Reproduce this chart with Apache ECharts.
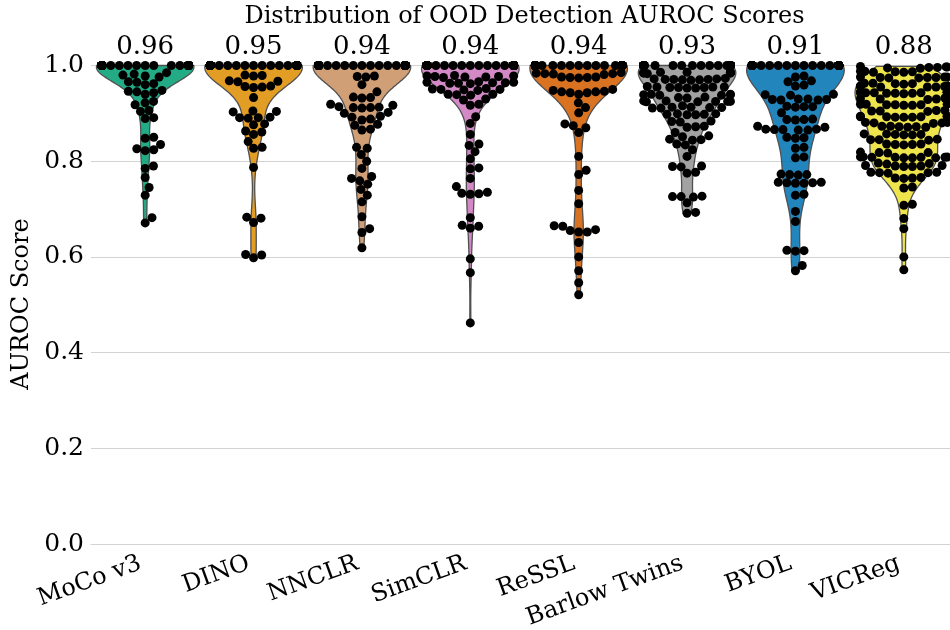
<!DOCTYPE html>
<html>
<head>
<meta charset="utf-8">
<script src="https://cdn.jsdelivr.net/npm/echarts@6/dist/echarts.min.js"></script>
<style>html,body{margin:0;padding:0;background:#fff}#chart{width:950px;height:630px}</style>
</head>
<body>
<div id="chart"></div>
<script>
const chartTitle = 'Distribution of OOD Detection AUROC Scores';
const yAxisName = 'AUROC Score';
const categories = ['MoCo v3', 'DINO', 'NNCLR', 'SimCLR', 'ReSSL', 'Barlow Twins', 'BYOL', 'VICReg'];
const meanLabels = ['0.96', '0.95', '0.94', '0.94', '0.94', '0.93', '0.91', '0.88'];
const yTickValues = [0, 0.2, 0.4, 0.6, 0.8, 1.0];

const mocoV3 = [
  0.985, 0.98, 0.978, 0.982, 0.976, 0.966, 0.962, 0.965, 0.96,
  0.945, 0.94, 0.943, 0.946, 0.948, 0.918, 0.925, 0.922, 0.904, 0.906,
  0.891, 0.889, 0.85, 0.848, 0.835, 0.824, 0.822, 0.826, 0.79, 0.785,
  0.766, 0.745, 0.729, 0.682, 0.671,
  1, 1, 1, 1, 1, 1, 1, 1, 1, 1,
  1, 1, 1, 1, 1, 1, 1, 1, 1, 1,
  1, 1, 1, 1, 1, 1, 1, 1, 1, 1,
  1, 1, 1, 1, 1, 1, 1, 1, 1, 1,
  1, 1, 1, 1, 1, 1, 1, 1, 1, 1,
  1, 1, 1, 1, 1, 1, 1, 1, 1, 1,
  1, 1, 1, 1, 1, 1
];
const dino = [
  0.98, 0.979, 0.978, 0.968, 0.967, 0.966, 0.957, 0.956, 0.955, 0.954,
  0.933, 0.905, 0.904, 0.903, 0.892, 0.891, 0.89, 0.891, 0.878, 0.876,
  0.863, 0.861, 0.856, 0.841, 0.829, 0.827, 0.787, 0.683, 0.681, 0.672,
  0.605, 0.604, 0.598,
  1, 1, 1, 1, 1, 1, 1, 1, 1, 1,
  1, 1, 1, 1, 1, 1, 1, 1, 1, 1,
  1, 1, 1, 1, 1, 1, 1, 1, 1, 1,
  1, 1, 1, 1, 1, 1, 1, 1, 1, 1,
  1, 1, 1, 1, 1, 1, 1, 1, 1, 1,
  1, 1, 1, 1, 1, 1, 1, 1, 1, 1
];
const nnclr = [
  0.978, 0.977, 0.976, 0.96, 0.945, 0.934, 0.933, 0.932, 0.919, 0.917,
  0.913, 0.912, 0.911, 0.912, 0.914, 0.902, 0.9, 0.894, 0.892, 0.888,
  0.886, 0.877, 0.875, 0.867, 0.865, 0.829, 0.827, 0.814, 0.8, 0.785,
  0.768, 0.764, 0.759, 0.752, 0.741, 0.729, 0.715, 0.684, 0.659, 0.651,
  0.619,
  1, 1, 1, 1, 1, 1, 1, 1, 1, 1,
  1, 1, 1, 1, 1, 1, 1, 1, 1, 1,
  1, 1, 1, 1, 1, 1, 1, 1, 1, 1,
  1, 1, 1, 1, 1, 1, 1, 1, 1, 1,
  1, 1, 1, 1, 1, 1, 1, 1, 1, 1,
  1, 1, 1, 1, 1, 1, 1, 1, 1, 1,
  1, 1, 1
];
const simclr = [
  0.979, 0.978, 0.977, 0.976, 0.978, 0.975, 0.977, 0.976,
  0.966, 0.965, 0.964, 0.963, 0.962, 0.964, 0.965, 0.963,
  0.951, 0.95, 0.949, 0.952, 0.948, 0.95,
  0.94, 0.939, 0.938, 0.94, 0.93, 0.928, 0.919, 0.917,
  0.893, 0.879, 0.856, 0.836, 0.833, 0.82, 0.805, 0.786, 0.784, 0.764,
  0.747, 0.735, 0.733, 0.731, 0.732, 0.682, 0.666, 0.664, 0.66, 0.596,
  0.567, 0.462,
  1, 1, 1, 1, 1, 1, 1, 1, 1, 1,
  1, 1, 1, 1, 1, 1, 1, 1, 1, 1,
  1, 1, 1, 1, 1, 1, 1, 1, 1, 1,
  1, 1, 1, 1, 1, 1, 1, 1, 1, 1,
  1, 1, 1, 1, 1, 1, 1, 1, 1, 1,
  1, 1, 1, 1, 1, 1, 1, 1, 1, 1,
  1, 1, 1, 1, 1, 1, 1, 1, 1, 1,
  1, 1, 1, 1, 1, 1, 1, 1, 1, 1,
  1, 1
];
const ressl = [
  0.985, 0.984, 0.983, 0.982, 0.983, 0.981, 0.976, 0.975, 0.974, 0.976,
  0.975, 0.95, 0.945, 0.945, 0.943, 0.943, 0.94, 0.946, 0.948, 0.922,
  0.912, 0.901, 0.87, 0.874, 0.878, 0.86, 0.81, 0.781, 0.772, 0.739,
  0.711, 0.665, 0.657, 0.652, 0.652, 0.655, 0.664, 0.63, 0.6, 0.571,
  0.546, 0.521,
  1, 1, 1, 1, 1, 1, 1, 1, 1, 1,
  1, 1, 1, 1, 1, 1, 1, 1, 1, 1,
  1, 1, 1, 1, 1, 1, 1, 1, 1, 1,
  1, 1, 1, 1, 1, 1, 1, 1, 1, 1,
  1, 1, 1, 1, 1, 1, 1, 1, 1, 1,
  1, 1, 1, 1, 1, 1, 1, 1, 1, 1,
  1, 1, 1, 1, 1, 1, 1, 1, 1, 1,
  1, 1
];
const barlowTwins = [
  0.986, 0.985, 0.984, 0.985, 0.986, 0.984, 0.985, 0.983, 0.986, 0.985,
  0.972, 0.971, 0.97, 0.972, 0.969, 0.971, 0.973, 0.97, 0.971,
  0.955, 0.954, 0.953, 0.955, 0.954, 0.956, 0.953, 0.954, 0.955,
  0.94, 0.939, 0.938, 0.94, 0.939, 0.938, 0.933, 0.932, 0.934,
  0.926, 0.925, 0.924, 0.925, 0.926, 0.924, 0.925, 0.916,
  0.913, 0.912, 0.911, 0.912, 0.913, 0.911,
  0.899, 0.898, 0.897, 0.898, 0.899, 0.897,
  0.884, 0.883, 0.882, 0.873, 0.872, 0.871, 0.86, 0.853, 0.851,
  0.846, 0.845, 0.844, 0.836, 0.834, 0.824, 0.81,
  0.79, 0.789, 0.788, 0.777, 0.775, 0.727, 0.726, 0.725, 0.726, 0.713,
  0.693, 0.691,
  1, 1, 1, 1, 1, 1, 1, 1, 1, 1,
  1, 1, 1, 1, 1, 1, 1, 1, 1, 1,
  1, 1, 1, 1, 1, 1, 1, 1, 1, 1,
  1, 1, 1, 1, 1, 1, 1
];
const byol = [
  0.978, 0.976, 0.968, 0.966, 0.959, 0.957, 0.94, 0.939, 0.938,
  0.93, 0.929, 0.928, 0.93, 0.929, 0.928, 0.915, 0.914, 0.913, 0.914,
  0.901, 0.888, 0.887, 0.886, 0.887, 0.873, 0.871,
  0.867, 0.866, 0.865, 0.866, 0.867, 0.865, 0.85, 0.849, 0.848,
  0.829, 0.827, 0.809, 0.807, 0.773, 0.772, 0.771, 0.772,
  0.756, 0.755, 0.754, 0.755, 0.756, 0.754, 0.731, 0.729, 0.695, 0.674,
  0.614, 0.613, 0.612, 0.582, 0.571,
  1, 1, 1, 1, 1, 1, 1, 1, 1, 1,
  1, 1, 1, 1, 1, 1, 1, 1, 1, 1,
  1, 1, 1, 1, 1, 1, 1, 1, 1, 1,
  1, 1, 1, 1, 1, 1, 1, 1, 1, 1,
  1, 1, 1, 1, 1, 1, 1, 1
];
const vicreg = [
  0.998, 0.997, 0.996, 0.996, 0.995, 0.997, 0.994,
  0.988, 0.987, 0.986, 0.987, 0.986, 0.988,
  0.976, 0.975, 0.974, 0.976, 0.975, 0.974, 0.975, 0.976,
  0.963, 0.962, 0.961, 0.962, 0.963,
  0.957, 0.956, 0.955, 0.956, 0.957, 0.955, 0.956, 0.957, 0.955,
  0.944, 0.943, 0.942, 0.943, 0.944, 0.942, 0.943, 0.944, 0.942, 0.943, 0.944, 0.941, 0.945,
  0.931, 0.93, 0.929, 0.93, 0.931, 0.932,
  0.919, 0.918, 0.917, 0.918, 0.919, 0.917, 0.918, 0.919,
  0.906, 0.905, 0.904, 0.905, 0.906,
  0.894, 0.893, 0.892, 0.893, 0.894, 0.892, 0.893, 0.894, 0.892,
  0.881, 0.88, 0.879, 0.88, 0.881,
  0.873, 0.872, 0.871, 0.872, 0.873, 0.871,
  0.857, 0.856, 0.855, 0.856, 0.857, 0.855,
  0.846, 0.845, 0.844, 0.845,
  0.836, 0.835, 0.834, 0.835, 0.836,
  0.819, 0.818, 0.817, 0.818,
  0.809, 0.808, 0.807, 0.808, 0.809, 0.807, 0.808, 0.809, 0.807, 0.808,
  0.796, 0.795, 0.794, 0.791, 0.79, 0.789, 0.79, 0.791, 0.789,
  0.777, 0.776, 0.775, 0.776, 0.777, 0.766, 0.765, 0.764, 0.765,
  0.746, 0.744, 0.71, 0.708, 0.68, 0.659, 0.6, 0.573
];

const palette = ['#029e73', '#de8f05', '#ca9161', '#cc78bc', '#d55e00', '#949494', '#0173b2', '#ece133'];
const scores = [mocoV3, dino, nnclr, simclr, ressl, barlowTwins, byol, vicreg];

const FONT = 'DejaVu Serif';
const FILL_ALPHA = 0.87;
const VIOLIN_HALF = 0.45;
const SWARM_HALF = 0.40;
const DOT_R = 4.5;
const DOT_D = 8.6;

function rgba(hex, a) {
  const n = parseInt(hex.slice(1), 16);
  return 'rgba(' + ((n >> 16) & 255) + ',' + ((n >> 8) & 255) + ',' + (n & 255) + ',' + a + ')';
}

const violinData = categories.map((c, i) => [i]);
const pointData = [];
scores.forEach((arr, i) => arr.forEach(v => pointData.push([i, v])));

function renderViolin(params, api) {
  const ci = api.value(0);
  const vals = scores[ci];
  const n = vals.length;
  const mean = vals.reduce((a, b) => a + b, 0) / n;
  const sd = Math.sqrt(vals.reduce((a, b) => a + (b - mean) * (b - mean), 0) / (n - 1));
  const bw = sd * Math.pow(n, -0.2);
  const lo = Math.min.apply(null, vals), hi = Math.max.apply(null, vals);
  const G = 200;
  const ys = [], ds = [];
  for (let k = 0; k < G; k++) {
    const y = lo + (hi - lo) * k / (G - 1);
    let s = 0;
    for (const v of vals) { const z = (y - v) / bw; s += Math.exp(-0.5 * z * z); }
    ys.push(y); ds.push(s);
  }
  const dmax = Math.max.apply(null, ds);
  const halfW = api.size([1, 0])[0] * VIOLIN_HALF;
  const right = [], left = [];
  for (let k = 0; k < G; k++) {
    const p = api.coord([ci, ys[k]]);
    const w = ds[k] / dmax * halfW;
    right.push([p[0] + w, p[1]]);
    left.push([p[0] - w, p[1]]);
  }
  const pts = right.concat(left.reverse());
  return {
    type: 'polygon',
    shape: { points: pts },
    style: { fill: rgba(palette[ci], FILL_ALPHA), stroke: '#505050', lineWidth: 1.3 }
  };
}

let swarmCache = null, swarmKey = '';
function computeSwarm(api) {
  const layout = new Array(pointData.length);
  const band = api.size([1, 0])[0];
  const gutter = band * SWARM_HALF;
  categories.forEach((c, ci) => {
    const idx = [];
    pointData.forEach((d, k) => { if (d[0] === ci) idx.push(k); });
    idx.sort((a, b) => pointData[a][1] - pointData[b][1]);
    const placed = [];
    const cx = api.coord([ci, 0])[0];
    idx.forEach(k => {
      const y = api.coord([ci, pointData[k][1]])[1];
      const neigh = placed.filter(p => Math.abs(p.y - y) < DOT_D);
      const cands = [0];
      neigh.forEach(p => {
        const dx = Math.sqrt(Math.max(DOT_D * DOT_D - (p.y - y) * (p.y - y), 0));
        cands.push(p.x + dx, p.x - dx);
      });
      cands.sort((a, b) => Math.abs(a) - Math.abs(b));
      let chosen = cands[cands.length - 1];
      for (const c of cands) {
        let ok = true;
        for (const p of neigh) {
          if ((p.x - c) * (p.x - c) + (p.y - y) * (p.y - y) < DOT_D * DOT_D - 1e-6) { ok = false; break; }
        }
        if (ok) { chosen = c; break; }
      }
      placed.push({ x: chosen, y: y });
      const off = Math.max(-gutter, Math.min(gutter, chosen));
      layout[k] = [cx + off, y];
    });
  });
  return layout;
}

function renderPoint(params, api) {
  const key = api.coord([0, 0]).join(',') + '|' + api.coord([1, 1]).join(',');
  if (!swarmCache || key !== swarmKey) { swarmCache = computeSwarm(api); swarmKey = key; }
  const p = swarmCache[params.dataIndex];
  return { type: 'circle', shape: { cx: p[0], cy: p[1], r: DOT_R }, style: { fill: '#000' } };
}

const chart = echarts.init(document.getElementById('chart'), null, { renderer: 'canvas' });
chart.setOption({
  animation: false,
  backgroundColor: '#fff',
  graphic: [{
    type: 'text', x: 524.5, y: 17,
    style: { text: chartTitle, font: '24px "DejaVu Serif"', fill: '#000', textAlign: 'center', textVerticalAlign: 'middle' }
  }, {
    type: 'text', x: 22, y: 304, rotation: Math.PI / 2,
    style: { text: yAxisName, font: '24px "DejaVu Serif"', fill: '#000', textAlign: 'center', textVerticalAlign: 'middle' }
  }],
  grid: { left: 91, top: 65.5, width: 867, height: 478.5, containLabel: false, outerBoundsMode: 'none' },
  xAxis: [{
    type: 'category', data: categories, position: 'bottom',
    axisLine: { show: true, lineStyle: { color: '#d3d3d3', width: 1.2 } },
    axisTick: { show: false },
    axisLabel: { interval: 0, rotate: 20, margin: 17, padding: [0, 5, 0, 0], fontFamily: FONT, fontSize: 24, color: '#000' },
    splitLine: { show: false }
  }, {
    type: 'category', data: meanLabels, position: 'top',
    axisLine: { show: false }, axisTick: { show: false },
    axisLabel: { interval: 0, margin: 5, fontFamily: FONT, fontSize: 26, color: '#000' },
    splitLine: { show: false }
  }],
  yAxis: {
    type: 'value', min: yTickValues[0], max: yTickValues[yTickValues.length - 1], interval: 0.2,
    axisLine: { show: false }, axisTick: { show: false },
    axisLabel: { margin: 7, fontFamily: FONT, fontSize: 25, color: '#000', formatter: v => v.toFixed(1) },
    splitLine: { show: true, lineStyle: { color: '#d3d3d3', width: 1.2 } }
  },
  series: [{
    type: 'custom', xAxisIndex: 0, yAxisIndex: 0, clip: false,
    renderItem: renderViolin, data: violinData, z: 2
  }, {
    type: 'custom', xAxisIndex: 0, yAxisIndex: 0, clip: false,
    renderItem: renderPoint, data: pointData, z: 3
  }]
});
</script>
</body>
</html>
